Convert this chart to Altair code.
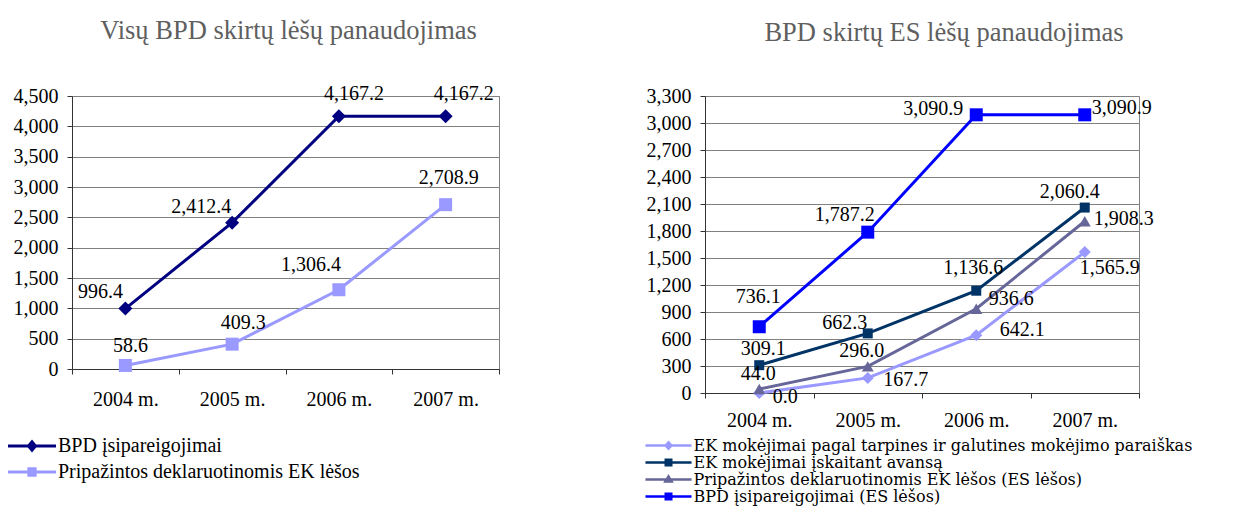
import altair as alt
import pandas as pd

# ---------------- data ----------------
years = ["2004 m.", "2005 m.", "2006 m.", "2007 m."]

left_title = "Visų BPD skirtų lėšų panaudojimas"
left_series = ["BPD įsipareigojimai", "Pripažintos deklaruotinomis EK lėšos"]
left_bpd = [996.4, 2412.4, 4167.2, 4167.2]
left_pripazintos = [58.6, 409.3, 1306.4, 2708.9]
left_ticks = [0, 500, 1000, 1500, 2000, 2500, 3000, 3500, 4000, 4500]

right_title = "BPD skirtų ES lėšų panaudojimas"
right_series = [
    "EK mokėjimai pagal tarpines ir galutines mokėjimo paraiškas",
    "EK mokėjimai įskaitant avansą",
    "Pripažintos deklaruotinomis EK lėšos (ES lėšos)",
    "BPD įsipareigojimai (ES lėšos)",
]
right_tarpines = [0.0, 167.7, 642.1, 1565.9]
right_avansas = [309.1, 662.3, 1136.6, 2060.4]
right_pripazintos = [44.0, 296.0, 936.6, 1908.3]
right_bpd = [736.1, 1787.2, 3090.9, 3090.9]
right_ticks = [0, 300, 600, 900, 1200, 1500, 1800, 2100, 2400, 2700, 3000, 3300]

# ---------------- styles ----------------
FONT = "Liberation Serif"
LEGEND_FONT_R = "DejaVu Serif"

# legend symbols: a horizontal line with the series marker (unit = 7 px)
LEG_DIAMOND_L = "M-3.43,0L3.43,0M-0.5,0L0,-0.6L0.5,0L0,0.6Z"
LEG_SQUARE_L = "M-3.43,0L3.43,0M-0.45,-0.45L0.45,-0.45L0.45,0.45L-0.45,0.45Z"
LEG_DIAMOND_R = "M-3.29,0L3.29,0M-0.42,0L0,-0.46L0.42,0L0,0.46Z"
LEG_SQUARE_R = "M-3.29,0L3.29,0M-0.4,-0.4L0.4,-0.4L0.4,0.4L-0.4,0.4Z"
LEG_TRIANGLE_R = "M-3.29,0L3.29,0M0,-0.46L0.46,0.3L-0.46,0.3Z"

left_colors = ["#000080", "#9999FF"]
left_shapes = ["diamond", "square"]
left_sizes = [196, 169]
left_leg_paths = [LEG_DIAMOND_L, LEG_SQUARE_L]
left_offsets = [
    [(-25, -17), (-31, -16), (15, -22), (18, -22)],
    [(5, -19), (11, -21), (-28, -25), (3, -27)],
]

right_colors = ["#9999FF", "#003366", "#666699", "#0000FF"]
right_shapes = ["diamond", "square", "triangle-up", "square"]
right_sizes = [144, 100, 144, 169]
right_leg_paths = [LEG_DIAMOND_R, LEG_SQUARE_R, LEG_TRIANGLE_R, LEG_SQUARE_R]
right_offsets = [
    [(26, 4), (38, 2), (46, -5), (25, 16)],
    [(4, -16), (-23, -10), (-3, -23), (-15, -16)],
    [(-1, -15), (-6, -15), (35, -10), (39, -2)],
    [(-1, -30), (-23, -17), (-43, -6), (37, -7)],
]


def make_panel(title, series, values, colors, shapes, sizes, leg_paths, offsets,
               ticks, ymax, width, height, title_dx, title_offset,
               leg_x, leg_y, leg_font_family, leg_font, leg_row_pad, leg_label_off,
               leg_stroke, x_label_pad):
    rows = []
    for name, vals in zip(series, values):
        for yr, v in zip(years, vals):
            rows.append({"year": yr, "series": name, "value": v})
    df = pd.DataFrame(rows)
    base = alt.Chart(df)

    x = alt.X(
        "year:N", sort=years, bandPosition=0.5,
        scale=alt.Scale(type="band", paddingInner=0, paddingOuter=0),
        axis=alt.Axis(title=None, labelAngle=0, tickBand="extent", grid=False,
                      labelFont=FONT, labelFontSize=20, labelColor="black",
                      domainColor="#333333", tickColor="#333333", tickSize=5,
                      labelPadding=x_label_pad),
    )
    y = alt.Y(
        "value:Q",
        scale=alt.Scale(domain=[0, ymax], nice=False, zero=True),
        axis=alt.Axis(title=None, values=ticks, format=",d", grid=True,
                      gridColor="#808080", gridWidth=1,
                      labelFont=FONT, labelFontSize=20, labelColor="black",
                      domainColor="#333333", tickColor="#333333", tickSize=5,
                      labelPadding=9),
    )

    leg = alt.Legend(
        title=None, orient="none", legendX=leg_x, legendY=leg_y,
        labelFont=leg_font_family, labelFontSize=leg_font, labelColor="black",
        labelLimit=2000, symbolSize=196, symbolStrokeWidth=leg_stroke, symbolOpacity=1,
        rowPadding=leg_row_pad, labelOffset=leg_label_off,
    )
    layers = [
        # legend carrier layer: tiny marks hidden under the lines
        base.mark_point(filled=True, size=1).encode(
            x=x, y=y,
            fill=alt.Fill("series:N", scale=alt.Scale(domain=series, range=colors), legend=leg),
            stroke=alt.Stroke("series:N", scale=alt.Scale(domain=series, range=colors), legend=leg),
            shape=alt.Shape("series:N", scale=alt.Scale(domain=series, range=leg_paths), legend=leg),
        ),
        # lines
        base.mark_line(strokeWidth=3).encode(
            x=x, y=y,
            color=alt.Color("series:N", scale=alt.Scale(domain=series, range=colors), legend=None),
        ),
    ]
    # markers
    for name, col, shp, sz in zip(series, colors, shapes, sizes):
        layers.append(
            base.transform_filter(alt.datum.series == name)
            .mark_point(filled=True, shape=shp, size=sz, color=col, opacity=1)
            .encode(x=x, y=y)
        )
    # data labels
    for name, offs in zip(series, offsets):
        for yr, (dx, dy) in zip(years, offs):
            layers.append(
                base.transform_filter((alt.datum.series == name) & (alt.datum.year == yr))
                .mark_text(dx=dx, dy=dy, font=FONT, fontSize=20, color="black",
                           align="center", baseline="middle")
                .encode(x=x, y=y, text=alt.Text("value:Q", format=",.1f"))
            )

    return alt.layer(*layers).properties(
        width=width, height=height,
        title=alt.TitleParams(title, font=FONT, fontSize=26.5, fontWeight="normal",
                              color="#5f5f5f", anchor="middle", dx=title_dx,
                              offset=title_offset),
    )


left = make_panel(
    left_title, left_series, [left_bpd, left_pripazintos], left_colors, left_shapes,
    left_sizes, left_leg_paths, left_offsets, left_ticks, 4500, 427, 273,
    title_dx=3, title_offset=40, leg_x=-50, leg_y=340, leg_font_family=FONT,
    leg_font=20, leg_row_pad=5, leg_label_off=16, leg_stroke=3, x_label_pad=15,
)
right = make_panel(
    right_title, right_series, [right_tarpines, right_avansas, right_pripazintos, right_bpd],
    right_colors, right_shapes, right_sizes, right_leg_paths, right_offsets,
    right_ticks, 3300, 434, 297,
    title_dx=22, title_offset=40, leg_x=-45, leg_y=341, leg_font_family=LEGEND_FONT_R,
    leg_font=16, leg_row_pad=0, leg_label_off=16.5, leg_stroke=2.4, x_label_pad=12,
)

chart = (
    alt.hconcat(left, right, spacing=206, bounds="flush")
    .resolve_scale(color="independent", fill="independent", stroke="independent",
                   shape="independent")
    .resolve_legend(fill="independent", stroke="independent", shape="independent")
    .properties(padding={"left": 4, "top": 9, "right": 0, "bottom": 0})
    .configure_view(stroke="#808080", strokeWidth=1)
)

chart.save("out.html", embed_options={"renderer": "svg", "actions": False})
